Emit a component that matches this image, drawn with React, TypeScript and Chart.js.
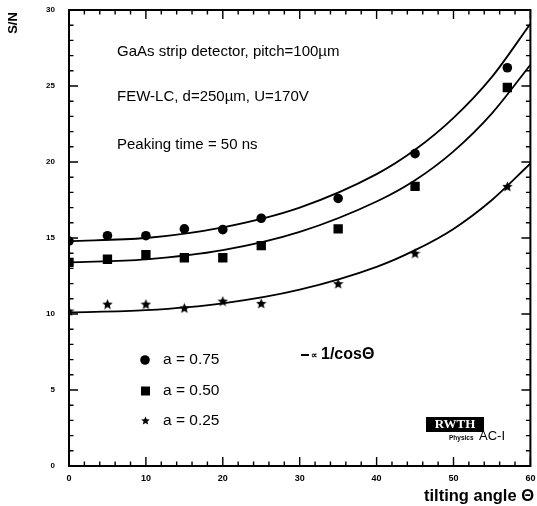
import { useEffect, useRef } from "react";
import { Chart, registerables } from "chart.js";

Chart.register(...registerables);

// Measured S/N values at each tilting angle (degrees)
const angles = [0, 5, 10, 15, 20, 25, 35, 45, 57];
const snA075 = [14.8, 15.15, 15.15, 15.6, 15.55, 16.3, 17.6, 20.55, 26.2];
const snA050 = [13.4, 13.6, 13.9, 13.7, 13.7, 14.5, 15.6, 18.4, 24.9];
const snA025 = [10.2, 10.65, 10.65, 10.4, 10.85, 10.7, 12.0, 14.0, 18.4];

// Fitted ∝ 1/cosΘ curves
const curveAngles = [0, 10, 20, 30, 40, 45, 50, 55, 60];
const fitA075 = [14.8, 15.0, 15.7, 17.0, 19.2, 20.8, 22.9, 25.6, 29.1];
const fitA050 = [13.4, 13.6, 14.2, 15.4, 17.4, 18.8, 20.7, 23.2, 26.4];
const fitA025 = [10.1, 10.25, 10.7, 11.6, 13.1, 14.2, 15.6, 17.5, 19.9];

const xTicks = [0, 10, 20, 30, 40, 50, 60];
const yTicks = [0, 5, 10, 15, 20, 25, 30];

const infoLines = [
  "GaAs strip detector, pitch=100\u00b5m",
  "FEW-LC, d=250\u00b5m, U=170V",
  "Peaking time = 50 ns",
];
const legendLabels = ["a = 0.75", "a = 0.50", "a = 0.25"];

const SANS = '"Liberation Sans", Arial, sans-serif';

function makeStar(size: number): HTMLCanvasElement {
  const c = document.createElement("canvas");
  c.width = size;
  c.height = size;
  const g = c.getContext("2d")!;
  const cx = size / 2;
  const cy = size / 2 + size * 0.05;
  const R = size / 2;
  const r = R * 0.45;
  g.beginPath();
  for (let i = 0; i < 10; i++) {
    const rad = i % 2 === 0 ? R : r;
    const ang = -Math.PI / 2 + (i * Math.PI) / 5;
    const px = cx + rad * Math.cos(ang);
    const py = cy + rad * Math.sin(ang);
    if (i === 0) g.moveTo(px, py);
    else g.lineTo(px, py);
  }
  g.closePath();
  g.fillStyle = "#000";
  g.fill();
  return c;
}

function pts(xs: number[], ys: number[]) {
  return xs.map((x, i) => ({ x, y: ys[i] }));
}

export default function App() {
  const ref = useRef<HTMLCanvasElement | null>(null);

  useEffect(() => {
    const canvas = ref.current;
    if (!canvas) return;
    const star = makeStar(11);
    const legendStar = makeStar(9);

    const framePlugin = {
      id: "frameAndNotes",
      afterDraw(chart: any) {
        const { ctx, chartArea: a } = chart;
        const xs = chart.scales.x;
        const ys = chart.scales.y;
        ctx.save();
        ctx.strokeStyle = "#000";
        ctx.fillStyle = "#000";

        // frame
        ctx.lineWidth = 2;
        ctx.strokeRect(a.left, a.top, a.right - a.left, a.bottom - a.top);

        // inward ticks on all four sides
        ctx.lineWidth = 1.4;
        ctx.beginPath();
        for (let v = 0; v <= 60; v += 2) {
          const px = xs.getPixelForValue(v);
          const len = v % 10 === 0 ? 9 : 4.5;
          ctx.moveTo(px, a.bottom);
          ctx.lineTo(px, a.bottom - len);
          ctx.moveTo(px, a.top);
          ctx.lineTo(px, a.top + len);
        }
        for (let v = 0; v <= 30; v += 1) {
          const py = ys.getPixelForValue(v);
          const len = v % 5 === 0 ? 9 : 4.5;
          ctx.moveTo(a.left, py);
          ctx.lineTo(a.left + len, py);
          ctx.moveTo(a.right, py);
          ctx.lineTo(a.right - len, py);
        }
        ctx.stroke();

        // axis titles
        ctx.save();
        ctx.translate(13, 23);
        ctx.rotate(-Math.PI / 2);
        ctx.font = `bold 13px ${SANS}`;
        ctx.textAlign = "center";
        ctx.textBaseline = "middle";
        ctx.fillText("S/N", 0, 0);
        ctx.restore();

        ctx.font = `bold 16.5px ${SANS}`;
        ctx.textAlign = "right";
        ctx.textBaseline = "middle";
        ctx.fillText("tilting angle \u0398", 534, 496);

        // description lines
        ctx.font = `15px ${SANS}`;
        ctx.textAlign = "left";
        ctx.textBaseline = "middle";
        const infoY = [52, 97, 145];
        infoLines.forEach((t, i) => ctx.fillText(t, 117, infoY[i]));

        // legend
        const legY = [360, 391, 421];
        ctx.beginPath();
        ctx.arc(145, legY[0], 4.8, 0, Math.PI * 2);
        ctx.fill();
        ctx.fillRect(141, legY[1] - 4.5, 9, 9);
        ctx.drawImage(legendStar, 141, legY[2] - 5);
        ctx.font = `15.5px ${SANS}`;
        legendLabels.forEach((t, i) => ctx.fillText(t, 163, legY[i]));

        // fit curve key
        ctx.lineWidth = 2;
        ctx.beginPath();
        ctx.moveTo(301, 355);
        ctx.lineTo(309, 355);
        ctx.stroke();
        ctx.font = `bold 9px ${SANS}`;
        ctx.fillText("\u221d", 311, 356);
        ctx.font = `bold 16px ${SANS}`;
        ctx.fillText("1/cos\u0398", 321, 355);

        // institute mark
        ctx.fillRect(426, 417, 58, 15);
        ctx.fillStyle = "#fff";
        ctx.font = `bold 13px "Liberation Serif", serif`;
        ctx.textAlign = "center";
        ctx.fillText("RWTH", 455, 425);
        ctx.fillStyle = "#000";
        ctx.textAlign = "left";
        ctx.font = `bold 6.5px ${SANS}`;
        ctx.fillText("Physics", 449, 438);
        ctx.font = `13px ${SANS}`;
        ctx.fillText("AC-I", 479, 436);

        ctx.restore();
      },
    };

    const curve = (data: { x: number; y: number }[]) => ({
      type: "line" as const,
      data,
      borderColor: "#000",
      borderWidth: 1.8,
      pointRadius: 0,
      cubicInterpolationMode: "monotone" as const,
      fill: false,
    });

    const marks = (data: { x: number; y: number }[], style: any, radius: number) => ({
      type: "scatter" as const,
      data,
      showLine: false,
      pointStyle: style,
      pointRadius: radius,
      backgroundColor: "#000",
      borderColor: "#000",
      borderWidth: 0,
    });

    const chart = new Chart(canvas, {
      type: "scatter",
      data: {
        datasets: [
          curve(pts(curveAngles, fitA075)),
          curve(pts(curveAngles, fitA050)),
          curve(pts(curveAngles, fitA025)),
          marks(pts(angles, snA075), "circle", 4.8),
          marks(pts(angles, snA050), "rect", 6.6),
          marks(pts(angles, snA025), star, 5.5),
        ] as any,
      },
      options: {
        animation: false,
        responsive: false,
        events: [],
        layout: { padding: { left: 0, top: 10, right: 6, bottom: 0 } },
        plugins: {
          legend: { display: false },
          tooltip: { enabled: false },
        },
        scales: {
          x: {
            type: "linear",
            min: 0,
            max: 60,
            afterFit: (s: any) => {
              s.height = 40;
              s.paddingLeft = 0;
              s.paddingRight = 0;
            },
            afterBuildTicks: (s: any) => {
              s.ticks = xTicks.map((v) => ({ value: v }));
            },
            grid: { display: false, drawTicks: false },
            border: { display: false },
            ticks: {
              padding: 7,
              color: "#000",
              font: { family: SANS, size: 9, weight: "bold" },
              maxRotation: 0,
            },
          },
          y: {
            type: "linear",
            min: 0,
            max: 30,
            afterFit: (s: any) => {
              s.width = 69;
              s.paddingTop = 0;
              s.paddingBottom = 0;
            },
            afterBuildTicks: (s: any) => {
              s.ticks = yTicks.map((v) => ({ value: v }));
            },
            grid: { display: false, drawTicks: false },
            border: { display: false },
            ticks: {
              padding: 14,
              color: "#000",
              font: { family: SANS, size: 8, weight: "bold" },
            },
          },
        },
      },
      plugins: [framePlugin],
    });

    return () => chart.destroy();
  }, []);

  return (
    <div style={{ position: "fixed", left: 0, top: 0, width: 537, height: 506, background: "#fff" }}>
      <canvas ref={ref} width={537} height={506} />
    </div>
  );
}
